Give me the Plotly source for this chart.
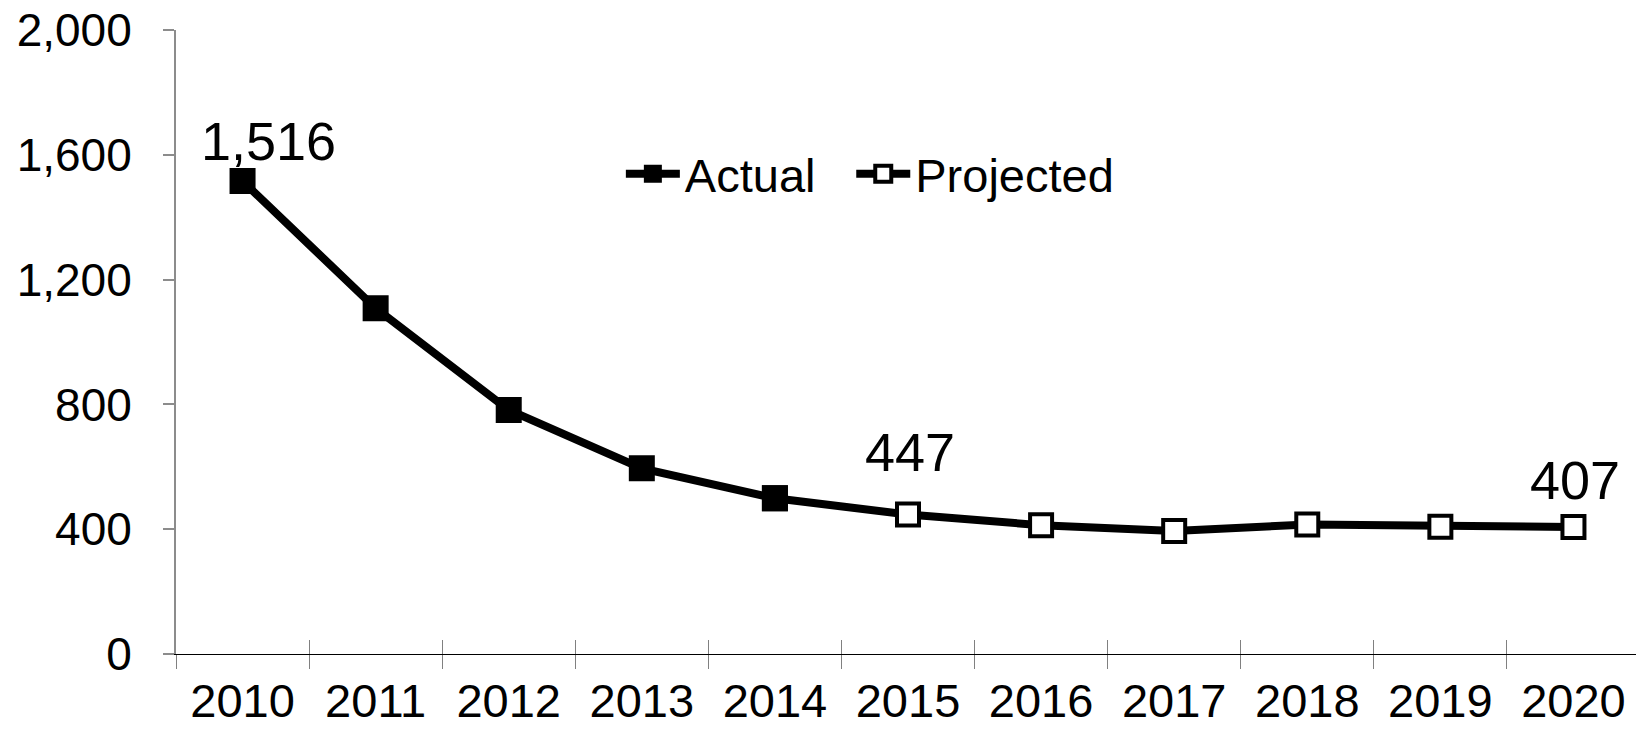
import plotly.graph_objects as go

# 資料：實際值 2010-2014，預測值 2015-2020
years = ["2010", "2011", "2012", "2013", "2014", "2015",
         "2016", "2017", "2018", "2019", "2020"]
actual = [1516, 1108, 782, 595, 499]
projected = [447, 413, 394, 415, 408, 407]

FONT = "Liberation Sans, Arial, sans-serif"
n_act = len(actual)

fig = go.Figure()

# 預測線從最後一個實際點接續，先畫讓實際點蓋在上面
fig.add_trace(go.Scatter(
    x=years[n_act - 1:], y=[actual[-1]] + projected, name="Projected",
    mode="lines+markers", legend="legend2",
    line=dict(color="black", width=8),
    marker=dict(symbol="square", size=22, color="white",
                line=dict(color="black", width=4)),
))
fig.add_trace(go.Scatter(
    x=years[:n_act], y=actual, name="Actual",
    mode="lines+markers", legend="legend",
    line=dict(color="black", width=8),
    marker=dict(symbol="square", size=24, color="black",
                line=dict(color="black", width=2)),
))
# 只為了讓第二條 x 軸（朝內的刻度）有類別
fig.add_trace(go.Scatter(
    x=years, y=[None] * len(years), xaxis="x2", mode="lines",
    showlegend=False, hoverinfo="skip",
))

# 資料標籤（類別軸用索引定位）
labels = [(0, actual[0], 26, 40),
          (n_act, projected[0], 2, 63),
          (len(years) - 1, projected[-1], 2, 47)]
for i, v, dx, dy in labels:
    fig.add_annotation(x=i, y=v, xref="x", yref="y", text=f"{v:,}",
                       showarrow=False, xshift=dx, yshift=dy,
                       font=dict(size=54, color="black", family=FONT))

x_range = [-0.5, 10.47]
legend_style = dict(orientation="h", y=0.769, xanchor="left", yanchor="middle",
                    font=dict(size=47), bgcolor="rgba(0,0,0,0)", itemwidth=54)
fig.update_layout(
    width=1636, height=733,
    margin=dict(l=176, r=0, t=30, b=79),
    paper_bgcolor="white", plot_bgcolor="white",
    font=dict(family=FONT, color="black"),
    showlegend=True,
    legend=dict(x=0.3047, **legend_style),
    legend2=dict(x=0.4625, **legend_style),
    xaxis=dict(type="category", categoryorder="array", categoryarray=years,
               range=x_range, tickson="boundaries", automargin=False,
               showline=True, linecolor="black", linewidth=1,
               ticks="outside", ticklen=14, tickcolor="#808080", tickwidth=1,
               tickfont=dict(size=47), ticklabelstandoff=6,
               ticklabeloverflow="allow",
               showgrid=False, zeroline=False),
    xaxis2=dict(type="category", categoryorder="array", categoryarray=years,
                range=x_range, overlaying="x", tickson="boundaries",
                showline=False, showticklabels=False,
                ticks="inside", ticklen=14, tickcolor="#808080", tickwidth=1,
                showgrid=False, zeroline=False),
    yaxis=dict(range=[0, 2000], tickvals=[0, 400, 800, 1200, 1600, 2000],
               tickformat=",", showline=True, linecolor="#8c8c8c", linewidth=2,
               ticks="outside", ticklen=11, tickcolor="#8c8c8c", tickwidth=2,
               tickfont=dict(size=46), ticklabelstandoff=22, automargin=False,
               ticklabeloverflow="allow",
               showgrid=False, zeroline=False),
)

# 拿掉頁面 body 的預設 8px 邊距，圖從左上角開始；不顯示工具列
fig.write_html("out.html", config={"displayModeBar": False},
               post_script="document.body.style.margin='0';")
